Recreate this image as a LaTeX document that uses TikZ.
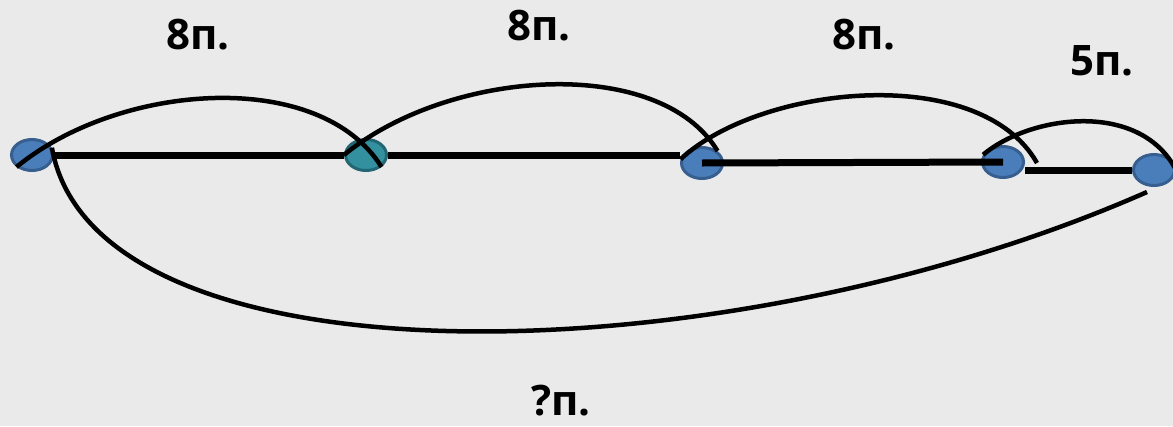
\documentclass[tikz,border=0pt]{standalone}
\usepackage{fontspec}
\setmainfont{Open Sans}
\usetikzlibrary{shapes.geometric}
\definecolor{paper}{HTML}{EAEAEA}
\definecolor{dotblue}{HTML}{4A7EBB}
\definecolor{dotblueline}{HTML}{365E8E}
\definecolor{dotteal}{HTML}{33909F}
\definecolor{dottealline}{HTML}{236674}

\begin{document}
\begin{tikzpicture}[x=1pt,y=-1pt,
  pt/.style={ellipse,draw=dotblueline,fill=dotblue,line width=3pt,
  minimum width=41pt,minimum height=31pt,inner sep=0pt},
  ptteal/.style={pt,draw=dottealline,fill=dotteal},
  seg/.style={line width=7pt},
  hop/.style={line width=4.5pt},
  lab/.style={font=\fontsize{42}{48}\selectfont\bfseries,inner sep=0pt}]
  \fill[paper] (0,0) rectangle (1173,426);
  \useasboundingbox (0,0) rectangle (1173,426);
  % points on the line
  \node[pt] (a) at (32,155) {};
  \node[ptteal] (b) at (366,155) {};
  \node[pt] (c) at (702,163) {};
  \node[pt] (d) at (1003,162) {};
  \node[pt] (e) at (1154,170) {};
  \coordinate (cend) at (1037,163);
  \coordinate (eend) at (1147,192);
  % segments
  \draw[seg] (a.east) -- (b.west);
  \draw[seg] (b.east) -- (c.west |- b.east);
  \draw[seg] (c.center) -- (d.center);
  \draw[seg] (d.east |- e.center) -- (e.west);
  % jumps
  \draw[hop] (a.south west) .. controls (120,82) and (320,68) .. (b.south east);
  \draw[hop] (b.west) .. controls (450,68) and (660,55) .. (c.north east);
  \draw[hop] (c.170) .. controls (760,85) and (980,62) .. (cend);
  \draw[hop] (d.160) .. controls (1030,115) and (1140,100) .. (e.east);
  \draw[hop] (a.20) .. controls (95,390) and (720,380) .. (eend);
  % labels
  \node[lab] (l1) at (198,35) {8п.};
  \node[lab] (l2) at (539,26) {8п.};
  \node[lab] (l3) at (864,35) {8п.};
  \node[lab] (l4) at (1102,61) {5п.};
  \node[lab] (l5) at (561,401) {?п.};
\end{tikzpicture}
\end{document}
